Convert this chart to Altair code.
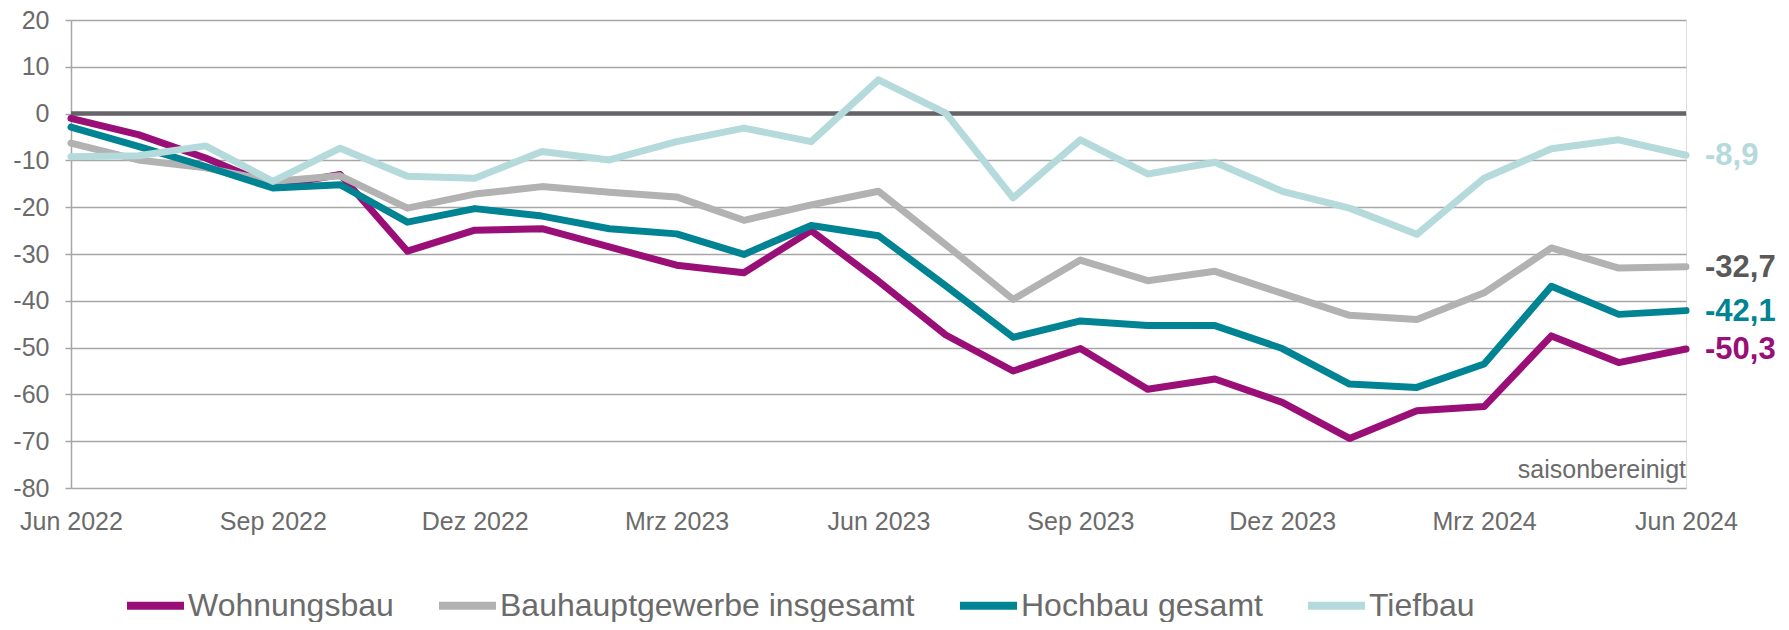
import altair as alt
import pandas as pd

months = ["Jun 2022", "Jul 2022", "Aug 2022", "Sep 2022", "Okt 2022", "Nov 2022", "Dez 2022",
          "Jan 2023", "Feb 2023", "Mrz 2023", "Apr 2023", "Mai 2023", "Jun 2023", "Jul 2023",
          "Aug 2023", "Sep 2023", "Okt 2023", "Nov 2023", "Dez 2023", "Jan 2024", "Feb 2024",
          "Mrz 2024", "Apr 2024", "Mai 2024", "Jun 2024"]
tick_labels = ["Jun 2022", "Sep 2022", "Dez 2022", "Mrz 2023", "Jun 2023", "Sep 2023",
               "Dez 2023", "Mrz 2024", "Jun 2024"]

series_names = ["Wohnungsbau", "Bauhauptgewerbe insgesamt", "Hochbau gesamt", "Tiefbau"]
series_colors = ["#9a0e77", "#b2b2b2", "#008392", "#b5dadb"]
label_colors = ["#9a0e77", "#595959", "#008392", "#b5dadb"]

wohnungsbau = [-1.0, -4.5, -9.5, -15.5, -13.0, -29.4, -24.9, -24.6, -28.5, -32.4, -34.0, -25.0,
               -35.8, -47.3, -55.0, -50.2, -58.9, -56.7, -61.7, -69.4, -63.5, -62.6, -47.5, -53.2, -50.3]
bauhaupt = [-6.3, -9.9, -11.6, -14.5, -13.3, -20.2, -17.2, -15.6, -16.8, -17.8, -22.8, -19.5,
            -16.6, -28.0, -39.7, -31.3, -35.7, -33.7, -38.4, -43.1, -44.0, -38.3, -28.7, -33.0, -32.7]
hochbau = [-2.9, -7.0, -11.3, -15.9, -15.2, -23.2, -20.3, -21.9, -24.6, -25.7, -30.1, -23.9,
           -26.1, -36.8, -47.8, -44.3, -45.3, -45.3, -50.2, -57.8, -58.5, -53.5, -36.9, -42.9, -42.1]
tiefbau = [-9.2, -9.0, -6.9, -14.5, -7.4, -13.4, -13.8, -8.1, -9.9, -6.0, -3.1, -6.0,
           7.2, 0.1, -18.0, -5.6, -12.9, -10.4, -16.6, -20.2, -25.8, -13.8, -7.5, -5.6, -8.9]

end_texts = ["-50,3", "-32,7", "-42,1", "-8,9"]
note_text = "saisonbereinigt"

all_series = [wohnungsbau, bauhaupt, hochbau, tiefbau]
rows = []
for name, vals in zip(series_names, all_series):
    for m, v in zip(months, vals):
        rows.append({"month": m, "series": name, "value": v})
df = pd.DataFrame(rows)

end_df = pd.DataFrame({
    "month": [months[-1]] * 4,
    "series": series_names,
    "value": [s[-1] for s in all_series],
    "text": end_texts,
    "tcolor": label_colors,
})

FONT = "Liberation Sans"
GRAY = "#6b6b6b"
GRID = "#a6a6a6"

x_enc = alt.X("month:O", sort=months,
              scale=alt.Scale(type="point", padding=0, domain=months),
              axis=alt.Axis(values=tick_labels, labelAngle=0, ticks=False, domain=False,
                            grid=False, title=None, labelPadding=21, labelFontSize=25,
                            labelColor=GRAY, labelFont=FONT))
y_scale = alt.Scale(domain=[-80, 20], nice=False, zero=False)
y_enc = alt.Y("value:Q", scale=y_scale,
              axis=alt.Axis(values=list(range(-80, 21, 10)), title=None, grid=True,
                            gridColor=GRID, gridWidth=1.5, domainColor=GRID, domainWidth=1.5,
                            tickColor=GRID, tickSize=6, tickWidth=1.5, labelPadding=16,
                            labelFontSize=25, labelColor=GRAY, labelFont=FONT,
                            labelExpr="datum.value + ''"))

legend = alt.Legend(title=None, orient="none", legendX=52, legendY=553, direction="horizontal",
                    symbolType="stroke", symbolStrokeWidth=8, symbolSize=3249,
                    labelFontSize=32, labelColor=GRAY, labelFont=FONT, columnPadding=29,
                    labelOffset=0, labelLimit=600)
color_enc = alt.Color("series:N", sort=series_names,
                      scale=alt.Scale(domain=series_names, range=series_colors),
                      legend=legend)

zero = alt.Chart(pd.DataFrame({"v": [0]})).mark_rule(color="#646469", strokeWidth=4.5).encode(
    y=alt.Y("v:Q", scale=y_scale))

layers = [zero]
for name in series_names:
    layers.append(
        alt.Chart(df).transform_filter(alt.datum.series == name)
        .mark_line(strokeWidth=7, strokeJoin="round", strokeCap="round")
        .encode(x=x_enc, y=y_enc, color=color_enc)
    )

labels = alt.Chart(end_df).mark_text(align="left", baseline="middle", dx=19, dy=1,
                                     fontSize=31, fontWeight="bold", font=FONT).encode(
    x=alt.X("month:O", sort=months, scale=alt.Scale(type="point", padding=0, domain=months)),
    y=alt.Y("value:Q", scale=y_scale),
    text="text:N",
    color=alt.Color("tcolor:N", scale=None),
)

note = alt.Chart(pd.DataFrame({"month": [months[-1]], "value": [-77.8], "t": [note_text]})).mark_text(
    align="right", baseline="alphabetic", fontSize=25, font=FONT, color=GRAY).encode(
    x=alt.X("month:O", sort=months, scale=alt.Scale(type="point", padding=0, domain=months)),
    y=alt.Y("value:Q", scale=y_scale),
    text="t:N",
)

chart = alt.layer(*layers, labels, note).properties(
    width=1615, height=468,
    padding={"left": 63, "top": 12, "right": 95, "bottom": 134},
    autosize=alt.AutoSizeParams(type="none"),
).configure_view(stroke=None).configure(font=FONT)

chart.save("out.html", embed_options={"renderer": "svg", "actions": False})
